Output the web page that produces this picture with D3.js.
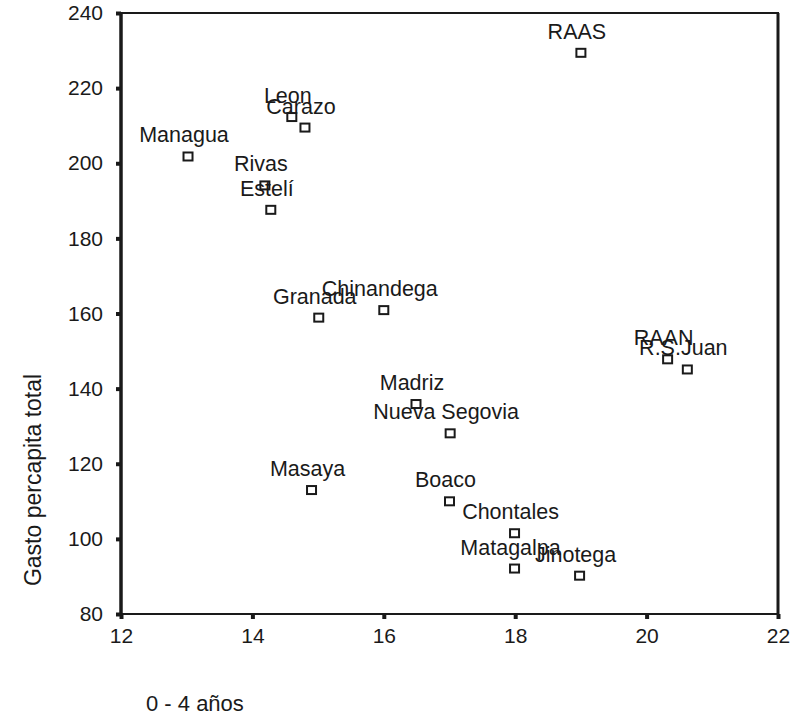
<!DOCTYPE html>
<html>
<head>
<meta charset="utf-8">
<title>Gasto percapita total</title>
<style>
  body { margin: 0; background: #fff; }
  text { font-family: "Liberation Sans", Arial, sans-serif; fill: #1a1a1a; }
</style>
</head>
<body>
<svg width="792" height="718"></svg>
<script src="https://cdn.jsdelivr.net/npm/d3@7"></script>
<script>
// datos
const names = ["RAAS", "Leon", "Carazo", "Managua", "Rivas", "Estelí", "Granada", "Chinandega",
  "RAAN", "R.S.Juan", "Madriz", "Nueva Segovia", "Masaya", "Boaco", "Chontales", "Matagalpa", "Jinotega"]
const edad04 = [19.0, 14.6, 14.8, 13.02, 14.19, 14.28, 15.01, 16.0,
  20.32, 20.62, 16.49, 17.01, 14.9, 17.0, 17.99, 17.99, 18.98]
const gasto = [229.4, 212.3, 209.5, 201.8, 194.1, 187.6, 158.9, 160.9,
  147.8, 145.1, 135.9, 128.1, 113.0, 110.0, 101.5, 92.1, 90.2]
const xTicks = [12, 14, 16, 18, 20, 22]
const yTicks = [80, 100, 120, 140, 160, 180, 200, 220, 240]

const svg = d3.select("svg")
const pL = 121, pR = 778, pT = 13, pB = 614

const x = d3.scaleLinear().domain([12, 22]).range([pL, pR])
const y = d3.scaleLinear().domain([80, 240]).range([pB, pT])

// marco
svg.append("rect")
  .attr("x", pL).attr("y", pT)
  .attr("width", pR - pL).attr("height", pB - pT)
  .attr("fill", "none").attr("stroke", "#1a1a1a").attr("stroke-width", 2)
svg.append("line")
  .attr("x1", pL).attr("x2", pL).attr("y1", pT).attr("y2", pB)
  .attr("stroke", "#1a1a1a").attr("stroke-width", 3.5)
svg.append("line")
  .attr("x1", pR).attr("x2", pR).attr("y1", pT).attr("y2", pB)
  .attr("stroke", "#1a1a1a").attr("stroke-width", 3)

// ejes
const yAxis = svg.append("g")
  .attr("transform", `translate(${pL},0)`)
  .call(d3.axisLeft(y).tickValues(yTicks).tickSize(5).tickPadding(13))
const xAxis = svg.append("g")
  .attr("transform", `translate(0,${pB})`)
  .call(d3.axisBottom(x).tickValues(xTicks).tickSize(5).tickPadding(9))

;[xAxis, yAxis].forEach(ax => {
  ax.select(".domain").remove()
  ax.selectAll(".tick line").attr("stroke", "#1a1a1a").attr("stroke-width", 4)
  ax.selectAll(".tick text")
    .attr("fill", "#1a1a1a")
    .attr("font-family", "'Liberation Sans', Arial, sans-serif")
    .attr("font-size", "21px")
})

// titulos
svg.append("text")
  .attr("transform", "translate(41,480) rotate(-90)")
  .attr("text-anchor", "middle")
  .attr("font-size", "23px")
  .text("Gasto percapita total")

svg.append("text")
  .attr("x", 146).attr("y", 711)
  .attr("font-size", "22px")
  .text("0 - 4 años")

// puntos
const pts = svg.append("g")
  .selectAll("g").data(names).enter().append("g")

pts.append("rect")
  .attr("x", (d, i) => x(edad04[i]) - 4.5)
  .attr("y", (d, i) => y(gasto[i]) - 4)
  .attr("width", 9).attr("height", 8)
  .attr("fill", "none").attr("stroke", "#1a1a1a").attr("stroke-width", 2)

pts.append("text")
  .attr("x", (d, i) => x(edad04[i]) - 4)
  .attr("y", (d, i) => y(gasto[i]) - 14)
  .attr("text-anchor", "middle")
  .attr("font-size", "21.5px")
  .text(d => d)
</script>
</body>
</html>
